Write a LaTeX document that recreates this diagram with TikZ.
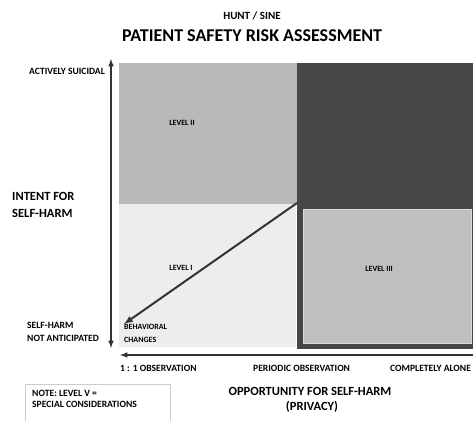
\documentclass[tikz,border=0pt]{standalone}
\usepackage{fontspec}
\setmainfont{Carlito}
\usetikzlibrary{positioning}

\begin{document}
\begin{tikzpicture}[x=1pt,y=-1pt,>=latex,
    lbl/.style={font=\bfseries\fontsize{9.6}{11}\selectfont,inner sep=0pt},
    lvl/.style={font=\bfseries\fontsize{8}{9}\selectfont,inner sep=0pt},
    axlbl/.style={font=\bfseries\fontsize{12.5}{14}\selectfont,inner sep=0pt}]
    \useasboundingbox (0,0) rectangle (473,420);

    % titles
    \node[font=\bfseries\fontsize{11}{13}\selectfont] (sub) at (252,16) {HUNT / SINE};
    \node[font=\bfseries\fontsize{18}{20}\selectfont] (title) at (252,36) {PATIENT SAFETY RISK ASSESSMENT};

    % the four zones
    \fill[gray!55] (119,63) rectangle (297,204);
    \fill[black!72] (297,63) rectangle (473,349);
    \fill[black!7] (119,204) rectangle (296,347);
    \filldraw[fill=gray!50,draw=gray!30,line width=0.8pt] (303,209) rectangle (471,343);
    \coordinate (corner) at (297,203);

    \node[lvl] (lev2) at (182,123) {LEVEL II};
    \node[lvl] (lev1) at (181,268) {LEVEL I};
    \node[lvl] (lev3) at (379,269) {LEVEL III};
    \node[lvl,anchor=north west] (behav) at (124,324) {BEHAVIORAL};
    \node[lvl,anchor=north west] (chg) at (124,337) {CHANGES};
    \draw[->,line width=2pt,black!80] (corner) -- (behav.north west);

    % vertical axis
    \coordinate (ytop) at (111,59);
    \coordinate (ybot) at (111,348);
    \draw[<->,line width=1.5pt,black!80] (ybot) -- (ytop);
    \node[lbl,anchor=east] (active) at (105,71) {ACTIVELY SUICIDAL};
    \node[axlbl,anchor=west] (intent) at (12,196) {INTENT FOR};
    \node[axlbl,anchor=west] (self) at (12,213) {SELF-HARM};
    \node[lbl,anchor=west] (nosh) at (27,325) {SELF-HARM};
    \node[lbl,anchor=west] (noant) at (27,338) {NOT ANTICIPATED};

    % horizontal axis
    \coordinate (xleft) at (120,355);
    \coordinate (xright) at (473,355);
    \draw[->,line width=1.5pt,black!80] (xright) -- (xleft);
    \node[lbl,anchor=west] (obs1) at (120,368) {1 : 1 OBSERVATION};
    \node[lbl,anchor=west] (obs2) at (253,368) {PERIODIC OBSERVATION};
    \node[lbl,anchor=west] (alone) at (390,368) {COMPLETELY ALONE};
    \node[axlbl] (opp) at (310,391) {OPPORTUNITY FOR SELF-HARM};
    \node[axlbl] (priv) at (312,407) {(PRIVACY)};

    % note
    \draw[gray!40] (25,384) rectangle (170,425);
    \node[lbl,anchor=west] (note) at (32,393) {NOTE: LEVEL V =};
    \node[lbl,anchor=west] (spec) at (32,404) {SPECIAL CONSIDERATIONS};
\end{tikzpicture}
\end{document}
